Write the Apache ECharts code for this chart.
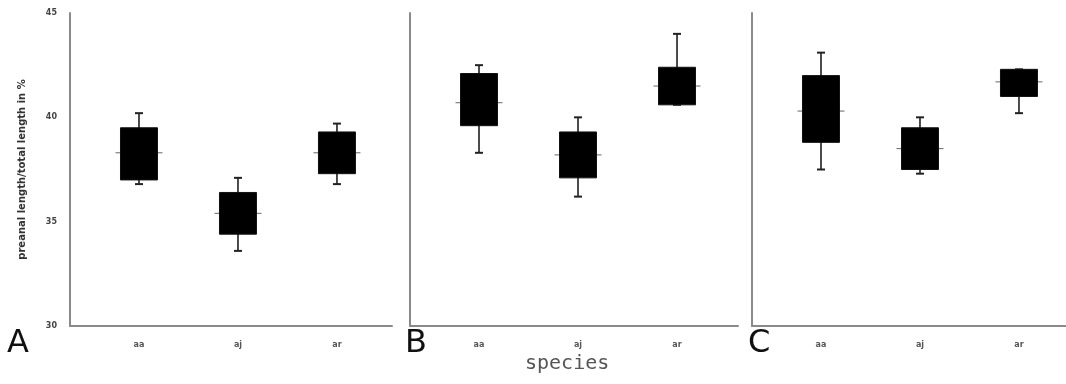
<!DOCTYPE html>
<html>
<head>
<meta charset="utf-8">
<title>preanal length / total length</title>
<script src="https://cdn.jsdelivr.net/npm/echarts@6/dist/echarts.min.js"></script>
<style>
  html, body { margin: 0; padding: 0; background: #fff; }
  #chart { width: 1066px; height: 384px; }
</style>
</head>
<body>
<div id="chart"></div>
<script>
// species on the x axis of every panel
const categories = ['aa', 'aj', 'ar']
// y ticks (only panel A shows them)
const yTicks = [30, 35, 40, 45]
const panelLetters = ['A', 'B', 'C']

// each row: [lower whisker, Q1, median, Q3, upper whisker]
const panelA = [
  [36.8, 37.0, 38.3, 39.5, 40.2],
  [33.6, 34.4, 35.4, 36.4, 37.1],
  [36.8, 37.3, 38.3, 39.3, 39.7],
]
const panelB = [
  [38.3, 39.6, 40.7, 42.1, 42.5],
  [36.2, 37.1, 38.2, 39.3, 40.0],
  [40.6, 40.6, 41.5, 42.4, 44.0],
]
const panelC = [
  [37.5, 38.8, 40.3, 42.0, 43.1],
  [37.3, 37.5, 38.5, 39.5, 40.0],
  [40.2, 41.0, 41.7, 42.3, 42.3],
]
const panels = [panelA, panelB, panelC]

// grid placement per panel (pixels) and x range so boxes sit where the figure has them
const grids = [
  { left: 70, width: 322, xMax: 2.556 },
  { left: 410, width: 328, xMax: 2.616 },
  { left: 752, width: 314, xMax: 2.475 },
]

const BOX_W = 37
const CAP_W = 8

function renderBox(params, api) {
  const x = api.value(0)
  const lo = api.coord([x, api.value(1)])
  const q1 = api.coord([x, api.value(2)])
  const md = api.coord([x, api.value(3)])
  const q3 = api.coord([x, api.value(4)])
  const hi = api.coord([x, api.value(5)])
  const cx = lo[0]
  const line = (x1, y1, x2, y2, stroke, w) => ({
    type: 'line',
    shape: { x1, y1, x2, y2 },
    style: { stroke, lineWidth: w },
  })
  return {
    type: 'group',
    children: [
      line(cx, hi[1], cx, lo[1], '#111', 1.5),
      line(cx - CAP_W / 2, hi[1], cx + CAP_W / 2, hi[1], '#222', 2),
      line(cx - CAP_W / 2, lo[1], cx + CAP_W / 2, lo[1], '#222', 2),
      // median tick sticks out a little on both sides of the solid box
      line(cx - BOX_W / 2 - 5, md[1], cx + BOX_W / 2 + 5, md[1], '#666', 1),
      {
        type: 'rect',
        shape: { x: cx - BOX_W / 2, y: q3[1], width: BOX_W, height: q1[1] - q3[1] },
        style: { fill: '#000', stroke: '#111', lineWidth: 1 },
      },
    ],
  }
}

const chart = echarts.init(document.getElementById('chart'), null, { renderer: 'canvas' })

const axisLineStyle = { show: true, onZero: false, lineStyle: { color: '#8a8a8a', width: 2 } }

chart.setOption({
  animation: false,
  backgroundColor: '#fff',
  grid: grids.map(g => ({ left: g.left, width: g.width, top: 13, bottom: 58 })),
  xAxis: grids.map((g, i) => ({
    type: 'value',
    gridIndex: i,
    min: -0.697,
    max: g.xMax,
    axisLine: axisLineStyle,
    axisTick: { show: false },
    splitLine: { show: false },
    axisLabel: {
      customValues: [0, 1, 2],
      formatter: v => categories[Math.round(v)] || '',
      color: '#555',
      fontSize: 8,
      fontWeight: 'bold',
      margin: 15,
      fontFamily: 'DejaVu Sans',
    },
  })),
  yAxis: grids.map((g, i) => ({
    type: 'value',
    gridIndex: i,
    min: yTicks[0],
    max: yTicks[yTicks.length - 1],
    interval: 5,
    axisLine: axisLineStyle,
    axisTick: { show: false },
    splitLine: { show: false },
    axisLabel: {
      show: i === 0,
      color: '#444',
      fontSize: 8,
      fontWeight: 'bold',
      margin: 13,
      fontFamily: 'DejaVu Sans',
    },
    name: i === 0 ? 'preanal length/total length in %' : '',
    nameLocation: 'middle',
    nameGap: 43,
    nameTextStyle: { color: '#333', fontSize: 10, fontWeight: 'bold', fontFamily: 'DejaVu Sans' },
  })),
  series: panels.map((rows, i) => ({
    type: 'custom',
    xAxisIndex: i,
    yAxisIndex: i,
    renderItem: renderBox,
    encode: { x: 0, y: [1, 2, 3, 4, 5] },
    data: rows.map((r, k) => [k, ...r]),
  })),
  graphic: [
    ...panelLetters.map((t, i) => ({
      type: 'text',
      left: [7, 405, 748][i],
      top: 328,
      style: { text: t, fontSize: 32, fill: '#111', fontFamily: 'DejaVu Sans' },
    })),
    {
      type: 'text',
      left: 525,
      top: 354,
      style: { text: 'species', fontSize: 20, fill: '#555', fontFamily: 'DejaVu Sans Mono' },
    },
  ],
})
</script>
</body>
</html>
